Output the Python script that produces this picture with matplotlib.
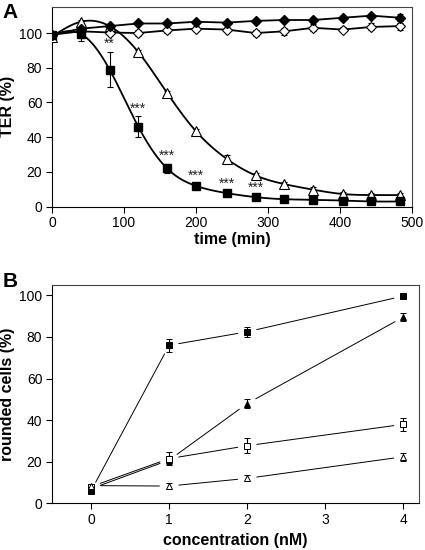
import numpy as np
import matplotlib
matplotlib.use("Agg")
import matplotlib.pyplot as plt

plt.rcParams['font.family'] = ['Liberation Sans', 'DejaVu Sans']

# ---- panel A: TER over time ----
t_min = [0, 40, 80, 120, 160, 200, 243, 283, 323, 363, 404, 444, 484]

ter_fdiam = [99, 102.5, 104, 105.5, 105.5, 106.5, 106, 107, 107.5, 107.5, 108.8, 110, 108.8]
ter_fdiam_err = [1, 1, 1, 1, 1, 1, 1, 1, 1.2, 1, 1, 1, 2]
ter_odiam = [99, 101, 100.3, 100, 101.5, 102.5, 102, 100, 101, 103, 102, 103.5, 104]
ter_odiam_err = [1.5, 1.5, 1.5, 1.5, 1.5, 1.5, 1.5, 1.5, 2, 2, 1.5, 2, 2]
ter_square = [99, 99.5, 79, 46, 22, 12, 7.8, 5.5, 4.3, 4, 3.5, 3, 3]
ter_square_err = [1, 4, 10, 6, 2.5, 1, 1, 1, 0.8, 0.8, 0.8, 0.8, 0.8]
ter_tri = [98, 106.5, 104, 89, 65.5, 43.5, 27.5, 18, 13, 9.8, 7.3, 6.7, 6.7]
ter_tri_err = [1, 1, 1, 1, 1, 1, 2.5, 1.5, 1.5, 1.5, 1, 1, 1]

# significance marks over the squares
star_t = [80, 120, 160, 200, 243, 283]
star_txt = ['**', '***', '***', '***', '***', '***']

# ---- panel B: rounded cells vs concentration ----
conc = [0, 1, 2, 4]
rc_fsquare = [6, 76, 82.5, 99.7]
rc_fsquare_err = [1, 3, 2.5, 1]
rc_ftri = [7, 20.8, 48, 89.6]
rc_ftri_err = [1, 2, 2, 2]
rc_osquare = [8, 21.5, 27.7, 38]
rc_osquare_err = [1, 3, 3.5, 3]
rc_otri = [8.5, 8.3, 12, 22.4]
rc_otri_err = [1, 1.5, 1.5, 2]


def spline_curve(x, y, n=400):
    # natural cubic spline through the points, only used to draw a smooth line
    x = np.asarray(x, float)
    y = np.asarray(y, float)
    k = len(x)
    h = np.diff(x)
    A = np.zeros((k, k))
    r = np.zeros(k)
    A[0, 0] = 1
    A[-1, -1] = 1
    for i in range(1, k - 1):
        A[i, i - 1] = h[i - 1]
        A[i, i] = 2 * (h[i - 1] + h[i])
        A[i, i + 1] = h[i]
        r[i] = 6 * ((y[i + 1] - y[i]) / h[i] - (y[i] - y[i - 1]) / h[i - 1])
    M = np.linalg.solve(A, r)
    xs = np.linspace(x[0], x[-1], n)
    idx = np.clip(np.searchsorted(x, xs) - 1, 0, k - 2)
    x0, x1 = x[idx], x[idx + 1]
    hh = x1 - x0
    a = (x1 - xs) / hh
    b = (xs - x0) / hh
    ys = a * y[idx] + b * y[idx + 1] + ((a**3 - a) * M[idx] + (b**3 - b) * M[idx + 1]) * hh**2 / 6
    return xs, ys


fig = plt.figure(figsize=(4.25, 5.5), dpi=100)
axA = fig.add_axes([0.1224, 0.6242, 0.8463, 0.3631])
axB = fig.add_axes([0.1224, 0.0849, 0.8635, 0.3969])

ebkw = dict(ecolor='black', elinewidth=0.8, capsize=2, capthick=0.8, linestyle='none')

# curves first, markers on top
xs, ys = spline_curve(t_min, ter_square)
axA.plot(xs, ys, color='black', lw=1.3, zorder=2)
xs, ys = spline_curve(t_min, ter_tri)
axA.plot(xs, ys, color='black', lw=1.3, zorder=2)
axA.plot(t_min, ter_odiam, color='black', lw=1.3, zorder=2)
axA.plot(t_min, ter_fdiam, color='black', lw=1.3, zorder=2)

axA.errorbar(t_min, ter_tri, yerr=ter_tri_err, marker='^', ms=6.5, mfc='white', mec='black',
             mew=0.8, zorder=3, **ebkw)
axA.errorbar(t_min, ter_odiam, yerr=ter_odiam_err, marker='D', ms=5, mfc='white', mec='black',
             mew=0.8, zorder=3, **ebkw)
axA.errorbar(t_min, ter_square, yerr=ter_square_err, marker='s', ms=5.5, mfc='black', mec='black',
             zorder=4, **ebkw)
axA.errorbar(t_min, ter_fdiam, yerr=ter_fdiam_err, marker='D', ms=5, mfc='black', mec='black',
             zorder=4, **ebkw)

for tt, txt in zip(star_t, star_txt):
    i = t_min.index(tt)
    axA.text(tt, ter_square[i] + ter_square_err[i] + 0.5, txt, ha='center', va='bottom',
             fontsize=10, color='#222222')

axA.set_xlim(0, 500)
axA.set_ylim(0, 115)
axA.set_xticks([0, 100, 200, 300, 400, 500])
axA.set_yticks([0, 20, 40, 60, 80, 100])
axA.set_xlabel('time (min)', fontsize=11.5, fontweight='bold', labelpad=1)
axA.set_ylabel('TER (%)', fontsize=11.5, fontweight='bold', labelpad=3)

# panel B: thin lines that stop short of the markers
series_b = [
    (rc_fsquare, rc_fsquare_err, 's', 'black'),
    (rc_ftri, rc_ftri_err, '^', 'black'),
    (rc_osquare, rc_osquare_err, 's', 'white'),
    (rc_otri, rc_otri_err, '^', 'white'),
]
for vals, errs, mk, fc in series_b:
    for i in range(len(conc) - 1):
        axB.annotate('', xy=(conc[i + 1], vals[i + 1]), xytext=(conc[i], vals[i]),
                     arrowprops=dict(arrowstyle='-', lw=0.7, color='black', shrinkA=7, shrinkB=7))
    axB.errorbar(conc, vals, yerr=errs, marker=mk, ms=5, mfc=fc, mec='black', mew=0.7,
                 zorder=3, **ebkw)

axB.set_xlim(-0.5, 4.2)
axB.set_ylim(0, 105)
axB.set_xticks([0, 1, 2, 3, 4])
axB.set_yticks([0, 20, 40, 60, 80, 100])
axB.set_xlabel('concentration (nM)', fontsize=11.5, fontweight='bold', labelpad=4)
axB.set_ylabel('rounded cells (%)', fontsize=11.5, fontweight='bold', labelpad=3)

for ax in (axA, axB):
    ax.tick_params(direction='out', length=4, width=0.8, labelsize=10, pad=3)
    for sp in ax.spines.values():
        sp.set_linewidth(0.8)
    ax.spines['top'].set_color('#444444')
    ax.spines['right'].set_color('#444444')

fig.text(0.005, 0.995, 'A', fontsize=15, fontweight='bold', ha='left', va='top')
fig.text(0.005, 0.505, 'B', fontsize=15, fontweight='bold', ha='left', va='top')

fig.savefig('out.png', dpi=100)
